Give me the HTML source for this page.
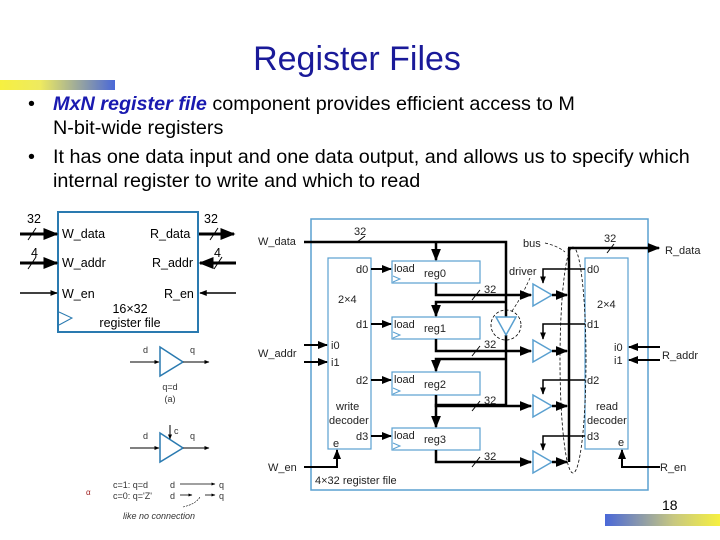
<!DOCTYPE html>
<html><head><meta charset="utf-8"><style>
html,body{margin:0;padding:0;background:#fff;}
svg{display:block;font-family:"Liberation Sans",Arial,sans-serif;}
</style></head><body>
<svg width="720" height="540" viewBox="0 0 720 540" xmlns="http://www.w3.org/2000/svg">
<defs>
<linearGradient id="g1" x1="0" x2="1" y1="0" y2="0"><stop offset="0" stop-color="#f6f040"/><stop offset="0.35" stop-color="#eeea60"/><stop offset="1" stop-color="#4a68d8"/></linearGradient>
<linearGradient id="g2" x1="0" x2="1" y1="0" y2="0"><stop offset="0" stop-color="#4a68d8"/><stop offset="0.6" stop-color="#c8c880"/><stop offset="1" stop-color="#f6f040"/></linearGradient>
<marker id="ar" viewBox="0 0 10 10" refX="9" refY="5" markerWidth="5" markerHeight="5" orient="auto"><path d="M0,1 L10,5 L0,9 z" fill="#000"/></marker>
</defs>
<rect x="0" y="80" width="115" height="10" fill="url(#g1)"/>
<rect x="605" y="514" width="115" height="12" fill="url(#g2)"/>
<text x="357" y="70" font-size="34" fill="#1a1a99" text-anchor="middle">Register Files</text>
<g font-size="19.8" fill="#000">
<text x="28" y="110">•</text>
<text x="53" y="110"><tspan fill="#1a1ab0" font-weight="bold" font-style="italic">MxN register file</tspan> component provides efficient access to M</text>
<text x="53" y="134">N-bit-wide registers</text>
<text x="28" y="163">•</text>
<text x="53" y="163">It has one data input and one data output, and allows us to specify which</text>
<text x="53" y="187">internal register to write and which to read</text>
</g>
<!-- left block -->
<g stroke="#000" fill="none">
<rect x="58" y="212" width="140" height="120" stroke="#2a7ab0" stroke-width="2"/>
<line x1="20" y1="234" x2="57" y2="234" stroke-width="3" marker-end="url(#ar)"/>
<line x1="20" y1="263" x2="57" y2="263" stroke-width="3" marker-end="url(#ar)"/>
<line x1="20" y1="293" x2="57" y2="293" stroke-width="1.5" marker-end="url(#ar)"/>
<line x1="199" y1="234" x2="234" y2="234" stroke-width="3" marker-end="url(#ar)"/>
<line x1="236" y1="263" x2="200" y2="263" stroke-width="3" marker-end="url(#ar)"/>
<line x1="236" y1="293" x2="200" y2="293" stroke-width="1.5" marker-end="url(#ar)"/>
<line x1="28" y1="240" x2="36" y2="228" stroke-width="1"/>
<line x1="28" y1="269" x2="36" y2="257" stroke-width="1"/>
<line x1="210" y1="240" x2="218" y2="228" stroke-width="1"/>
<line x1="214" y1="269" x2="222" y2="257" stroke-width="1"/>
<path d="M59,312 L72,318 L59,325" stroke="#2a7ab0"/>
</g>
<g font-size="12.5" fill="#000">
<text x="27" y="223">32</text><text x="204" y="223">32</text>
<text x="31" y="257">4</text><text x="214" y="257">4</text>
<text x="62" y="238">W_data</text><text x="150" y="238">R_data</text>
<text x="62" y="267">W_addr</text><text x="152" y="267">R_addr</text>
<text x="62" y="298">W_en</text><text x="164" y="298">R_en</text>
<text x="130" y="313" text-anchor="middle">16×32</text>
<text x="130" y="327" text-anchor="middle">register file</text>
</g>
<!-- buffers -->
<g stroke="#000" fill="none">
<path d="M160,347 L183,362 L160,376 z" stroke="#2a7ab0" stroke-width="1.5"/>
<line x1="130" y1="362" x2="159" y2="362" marker-end="url(#ar)"/>
<line x1="183" y1="362" x2="209" y2="362" marker-end="url(#ar)"/>
<path d="M160,433 L183,448 L160,462 z" stroke="#2a7ab0" stroke-width="1.5"/>
<line x1="130" y1="448" x2="159" y2="448" marker-end="url(#ar)"/>
<line x1="183" y1="448" x2="209" y2="448" marker-end="url(#ar)"/>
<line x1="170" y1="425" x2="170" y2="439" marker-end="url(#ar)"/>
<line x1="180" y1="484" x2="215" y2="484" stroke-width="0.8" marker-end="url(#ar)"/>
<line x1="180" y1="495" x2="192" y2="495" stroke-width="0.8" marker-end="url(#ar)"/>
<line x1="205" y1="495" x2="215" y2="495" stroke-width="0.8" marker-end="url(#ar)"/>
<path d="M183,507 Q196,504 200,497" stroke-width="0.6" stroke-dasharray="2,1"/>
</g>
<g font-size="9" fill="#333">
<text x="143" y="353">d</text><text x="190" y="353">q</text>
<text x="170" y="390" text-anchor="middle">q=d</text><text x="170" y="402" text-anchor="middle">(a)</text>
<text x="174" y="434">c</text>
<text x="143" y="439">d</text><text x="190" y="439">q</text>
<text x="113" y="488">c=1: q=d</text><text x="170" y="488">d</text><text x="219" y="488">q</text>
<text x="113" y="499">c=0: q='Z'</text><text x="170" y="499">d</text><text x="219" y="499">q</text>
<text x="123" y="519" font-style="italic">like no connection</text>
<text x="86" y="495" fill="#a02020" font-size="8">α</text>
</g>
<!-- right diagram -->
<g fill="none" stroke="#000">
<rect x="311" y="219" width="337" height="271" stroke="#5aa0d0" stroke-width="1.5"/>
<rect x="328" y="258" width="43" height="191" stroke="#5aa0d0" stroke-width="1.2"/>
<rect x="585" y="258" width="43" height="191" stroke="#5aa0d0" stroke-width="1.2"/>
<rect x="392" y="261" width="88" height="22" stroke="#5aa0d0" stroke-width="1.2"/>
<rect x="392" y="317" width="88" height="22" stroke="#5aa0d0" stroke-width="1.2"/>
<rect x="392" y="372" width="88" height="23" stroke="#5aa0d0" stroke-width="1.2"/>
<rect x="392" y="428" width="88" height="22" stroke="#5aa0d0" stroke-width="1.2"/>
<g stroke="#5aa0d0"><path d="M393,276 L400,279 L393,282"/><path d="M393,332 L400,335 L393,338"/><path d="M393,388 L400,391 L393,394"/><path d="M393,443 L400,446 L393,449"/></g>
<polyline points="304,242 506,242 506,317" stroke-width="2.5"/>
<line x1="436" y1="242" x2="436" y2="260" stroke-width="2.5" marker-end="url(#ar)"/>
<polyline points="506,302 436,302 436,316" stroke-width="2.5" marker-end="url(#ar)"/>
<polyline points="506,335 506,405 436,405 436,427" stroke-width="2.5" marker-end="url(#ar)"/>
<polyline points="506,359 436,359 436,371" stroke-width="2.5" marker-end="url(#ar)"/>
<line x1="357" y1="242" x2="365" y2="236" stroke-width="1"/>
<path d="M496,317 L516,317 L506,335 z" stroke="#5aa0d0" stroke-width="1.5"/>
<circle cx="506" cy="325" r="15" stroke-width="0.8" stroke-dasharray="3,2"/>
<path d="M512,311 Q520,300 530,278" stroke-width="0.7" stroke-dasharray="3,2"/>
<line x1="371" y1="269" x2="391" y2="269" stroke-width="2" marker-end="url(#ar)"/>
<line x1="371" y1="324" x2="391" y2="324" stroke-width="2" marker-end="url(#ar)"/>
<line x1="371" y1="380" x2="391" y2="380" stroke-width="2" marker-end="url(#ar)"/>
<line x1="371" y1="436" x2="391" y2="436" stroke-width="2" marker-end="url(#ar)"/>
<g stroke-width="2.5">
<polyline points="436,283 436,295 531,295" marker-end="url(#ar)"/>
<polyline points="436,339 436,351 531,351" marker-end="url(#ar)"/>
<polyline points="436,395 436,406 531,406" marker-end="url(#ar)"/>
<polyline points="436,450 436,462 531,462" marker-end="url(#ar)"/>
</g>
<g stroke-width="1"><line x1="472" y1="300" x2="480" y2="290"/><line x1="472" y1="356" x2="480" y2="346"/><line x1="472" y1="411" x2="480" y2="401"/><line x1="472" y1="467" x2="480" y2="457"/></g>
<g stroke="#5aa0d0" stroke-width="1.5">
<path d="M533,284 L552,295 L533,306 z"/><path d="M533,340 L552,351 L533,362 z"/><path d="M533,395 L552,406 L533,417 z"/><path d="M533,451 L552,462 L533,473 z"/>
</g>
<g stroke-width="2.5">
<line x1="552" y1="295" x2="567" y2="295" marker-end="url(#ar)"/>
<line x1="552" y1="351" x2="567" y2="351" marker-end="url(#ar)"/>
<line x1="552" y1="406" x2="567" y2="406" marker-end="url(#ar)"/>
<line x1="552" y1="462" x2="567" y2="462" marker-end="url(#ar)"/>
<line x1="569" y1="462" x2="569" y2="248"/>
<line x1="568" y1="248" x2="659" y2="248" marker-end="url(#ar)"/>
</g>
<line x1="607" y1="253" x2="614" y2="244" stroke-width="1"/>
<g stroke-width="1.5">
<polyline points="585,269 543,269 543,283" marker-end="url(#ar)"/>
<polyline points="585,324 543,324 543,339" marker-end="url(#ar)"/>
<polyline points="585,380 543,380 543,394" marker-end="url(#ar)"/>
<polyline points="585,436 543,436 543,450" marker-end="url(#ar)"/>
</g>
<ellipse cx="573" cy="360" rx="13" ry="113" stroke-width="0.8" stroke-dasharray="3,2"/>
<path d="M545,243 Q558,246 565,252" stroke-width="0.7" stroke-dasharray="3,2"/>
<g stroke-width="2">
<line x1="304" y1="345" x2="327" y2="345" marker-end="url(#ar)"/>
<line x1="304" y1="362" x2="327" y2="362" marker-end="url(#ar)"/>
<line x1="660" y1="347" x2="629" y2="347" marker-end="url(#ar)"/>
<line x1="660" y1="360" x2="629" y2="360" marker-end="url(#ar)"/>
<polyline points="304,467 337,467 337,450" marker-end="url(#ar)"/>
<polyline points="660,467 622,467 622,450" marker-end="url(#ar)"/>
</g>
</g>
<g font-size="11" fill="#222">
<text x="258" y="245">W_data</text><text x="258" y="357">W_addr</text><text x="268" y="471">W_en</text>
<text x="665" y="254">R_data</text><text x="662" y="359">R_addr</text><text x="660" y="471">R_en</text>
<text x="354" y="235">32</text><text x="604" y="242">32</text>
<text x="523" y="247">bus</text><text x="509" y="275">driver</text>
<text x="356" y="273">d0</text><text x="356" y="328">d1</text><text x="356" y="384">d2</text><text x="356" y="440">d3</text>
<text x="338" y="303">2×4</text><text x="331" y="349">i0</text><text x="331" y="366">i1</text>
<text x="336" y="410">write</text><text x="329" y="424">decoder</text><text x="333" y="447">e</text>
<text x="394" y="272">load</text><text x="424" y="277">reg0</text>
<text x="394" y="328">load</text><text x="424" y="332">reg1</text>
<text x="394" y="383">load</text><text x="424" y="388">reg2</text>
<text x="394" y="439">load</text><text x="424" y="443">reg3</text>
<text x="484" y="293">32</text><text x="484" y="348">32</text><text x="484" y="404">32</text><text x="484" y="460">32</text>
<text x="587" y="273">d0</text><text x="587" y="328">d1</text><text x="587" y="384">d2</text><text x="587" y="440">d3</text>
<text x="597" y="308">2×4</text><text x="614" y="351">i0</text><text x="614" y="364">i1</text>
<text x="596" y="410">read</text><text x="587" y="424">decoder</text><text x="618" y="446">e</text>
<text x="315" y="484">4×32 register file</text>
</g>
<text x="662" y="510" font-size="14" fill="#000">18</text>
</svg>
</body></html>
